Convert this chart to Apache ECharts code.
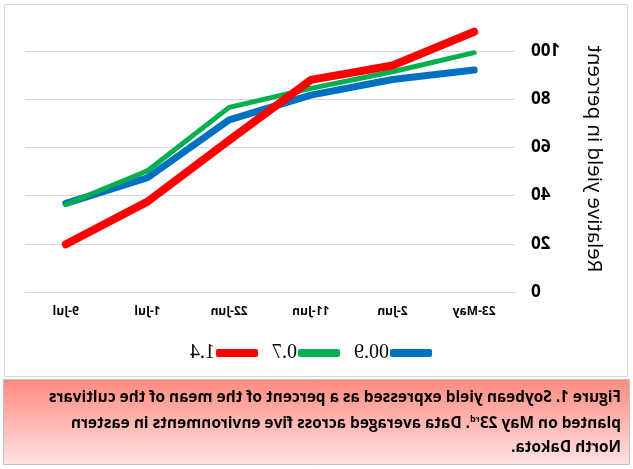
<!DOCTYPE html>
<html><head><meta charset="utf-8">
<script src="https://cdn.jsdelivr.net/npm/echarts@6/dist/echarts.min.js"></script>
<style>
html,body{margin:0;padding:0;background:#fff;}
#c{width:633px;height:469px;transform:scaleX(-1);transform-origin:center;}
</style></head>
<body><div id="c"></div>
<script>
var categories = ['23-May','2-Jun','11-Jun','22-Jun','1-Jul','9-Jul'];
var seriesNames = ['00.9','0.7','1.4'];
var blue09 = [92.1, 88.2, 81.7, 71.4, 47.4, 36.8];
var green07 = [99.3, 91.4, 84.5, 76.6, 50.3, 36.3];
var red14 = [108, 94, 88, 63, 37.5, 19.8];
var yTicks = [0, 20, 40, 60, 80, 100];
var caption1 = 'Figure 1. Soybean yield expressed as a percent of the mean of the cultivars';
var caption2a = 'planted on May 23';
var caption2sup = 'rd';
var caption2b = '. Data averaged across five environments in eastern';
var caption3 = 'North Dakota.';

var chart = echarts.init(document.getElementById('c'));
var capFont = 'bold 15.4px "Open Sans", sans-serif';
chart.setOption({
  animation: false,
  grid: {left: 118, right: 25, top: 51, bottom: 177},
  xAxis: {
    type: 'category', data: categories, boundaryGap: true,
    axisLine: {show: true, lineStyle: {color: '#d9d9d9'}},
    axisTick: {show: false},
    axisLabel: {color: '#000', fontWeight: 'bold', fontSize: 12, fontFamily: 'Open Sans', margin: 14}
  },
  yAxis: {
    type: 'value', min: 0, max: 100, interval: 20,
    name: 'Relative yield in percent', nameLocation: 'middle', nameGap: 68, nameRotate: 90,
    nameTextStyle: {color: '#000', fontSize: 20.5, fontFamily: 'Open Sans', padding: [0,0,0,25]},
    axisLabel: {color: '#000', fontWeight: 'bold', fontSize: 17, fontFamily: 'Open Sans', margin: 16,
      formatter: function(v){ return yTicks.indexOf(v) >= 0 ? String(v) : ''; }},
    splitLine: {lineStyle: {color: '#d9d9d9'}},
    axisLine: {show: false}, axisTick: {show: false}
  },
  legend: {
    top: 338, left: 196, itemGap: 14, itemWidth: 42, itemHeight: 8, icon: 'roundRect',
    textStyle: {color: '#000', fontSize: 20, fontFamily: 'Liberation Serif', padding: [0,0,0,-4]},
    data: seriesNames
  },
  series: [
    {name: seriesNames[0], type: 'line', data: blue09, clip: false, symbol: 'none', color: '#0070C0',
      lineStyle: {width: 7, cap: 'round', join: 'round'}},
    {name: seriesNames[1], type: 'line', data: green07, clip: false, symbol: 'none', color: '#00B050',
      lineStyle: {width: 5, cap: 'round', join: 'round'}},
    {name: seriesNames[2], type: 'line', data: red14, clip: false, symbol: 'none', color: '#FF0000',
      lineStyle: {width: 8, cap: 'round', join: 'round'}}
  ],
  graphic: [
    {type: 'rect', shape: {x: 5.5, y: 4.5, width: 623, height: 372}, style: {fill: 'none', stroke: '#d9d9d9', lineWidth: 1}, z: -1},
    {type: 'rect', shape: {x: 3.5, y: 379.5, width: 626, height: 85},
      style: {fill: new echarts.graphic.LinearGradient(0,0,0,1,[{offset:0,color:'#ff8a80'},{offset:1,color:'#ffe3e3'}]), stroke: '#bfbfbf', lineWidth: 1}},
    {type: 'text', left: 12, top: 390, style: {text: caption1, font: capFont, fill: '#000'}},
    {type: 'text', left: 12, top: 415, style: {
      text: caption2a + '{s|' + caption2sup + '}' + caption2b, font: capFont, fill: '#000',
      rich: {s: {fontSize: 9, fontWeight: 'bold', fontFamily: 'Open Sans', verticalAlign: 'top', padding: [0,0,8,0]}}}},
    {type: 'text', left: 12, top: 440, style: {text: caption3, font: capFont, fill: '#000'}}
  ]
});
</script></body></html>
